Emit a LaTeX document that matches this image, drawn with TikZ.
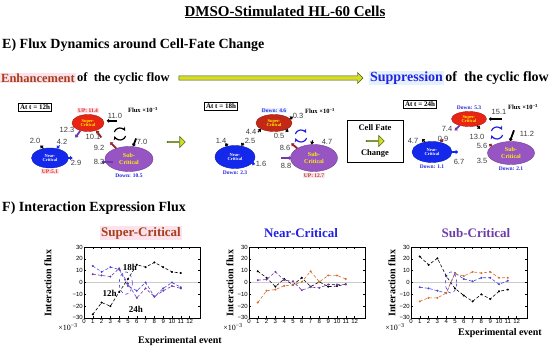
\documentclass[tikz,border=0pt]{standalone}
\usepackage{fontspec}
\setmainfont{Liberation Serif}
\setsansfont{Liberation Sans}
\usepackage{tikz}
\usetikzlibrary{positioning, arrows.meta, shapes.geometric, shapes.arrows, calc}

\definecolor{superred}{RGB}{232, 36, 20}
\definecolor{superdark}{RGB}{195, 40, 22}
\definecolor{nearblue}{RGB}{20, 40, 235}
\definecolor{subpurple}{RGB}{150, 85, 195}
\definecolor{enhbrown}{RGB}{165, 62, 28}
\definecolor{supblue}{RGB}{35, 35, 225}
\definecolor{critpurple}{RGB}{110, 60, 170}
\definecolor{hlpink}{RGB}{253, 225, 235}
\definecolor{hlblue}{RGB}{228, 242, 253}
\definecolor{fateyellow}{RGB}{215, 220, 40}
\definecolor{fategreen}{RGB}{70, 110, 30}
\definecolor{fluxred}{RGB}{150, 30, 40}
\definecolor{lineorange}{RGB}{215, 110, 50}
\definecolor{lineblue}{RGB}{70, 70, 225}
\definecolor{linepurple}{RGB}{120, 60, 170}
\definecolor{valgray}{RGB}{60, 60, 60}

\begin{document}
\begin{tikzpicture}[x=1pt, y=-1pt,
    crit/.style={ellipse, draw=#1!75!black, fill=#1, inner sep=0pt, align=center,
                 font=\bfseries\fontsize{4.5}{4.8}\selectfont},
    attime/.style={draw, thick, font=\bfseries\fontsize{7}{8}\selectfont, inner sep=1.5pt},
    val/.style={font=\sffamily\fontsize{7.5}{8}\selectfont, text=valgray, inner sep=0.5pt},
    updown/.style={font=\bfseries\fontsize{5.5}{6}\selectfont, inner sep=0.6pt},
    fluxlbl/.style={font=\bfseries\fontsize{6.5}{7}\selectfont},
    fluxout/.style={-{Triangle[length=2.5pt, width=4pt]}, line width=1.8pt},
    fluxin/.style={{Triangle[length=2.5pt, width=4pt]}-, line width=1.8pt},
    cyc/.style={-{Stealth[length=4pt, width=4pt]}, line width=1.2pt},
    fateshift/.style={single arrow, draw=fategreen, fill=fateyellow, semithick,
                      minimum width=11pt, single arrow head extend=2.5pt, inner sep=0pt},
    head/.style={font=\bfseries\fontsize{14}{16}\selectfont, inner sep=1pt},
    flowrow/.style={font=\bfseries\fontsize{13}{15}\selectfont, inner sep=1pt},
    ticklbl/.style={font=\sffamily\fontsize{6}{6}\selectfont, inner sep=1pt},
    series/.style={densely dashed, line width=0.6pt, mark=*, mark size=0.7pt, mark options={solid}}]
\useasboundingbox (0,0) rectangle (550,350);

% headings
\node[font=\bfseries\fontsize{15}{18}\selectfont] (title) at (285,12) {\underline{DMSO-Stimulated HL-60 Cells}};
\node[head, anchor=west] (ehead) at (1,45) {E) Flux Dynamics around Cell-Fate Change};
\node[flowrow, anchor=west, fill=hlpink, text=enhbrown, font=\bfseries\fontsize{12.5}{15}\selectfont] (enh) at (0,78) {Enhancement};
\node[flowrow, anchor=west, font=\bfseries\fontsize{12.5}{15}\selectfont] (enhrest) at (enh.east) {of~ the cyclic flow};
\node[flowrow, anchor=east, font=\bfseries\fontsize{14}{16}\selectfont] (supprest) at (550,78) {of~ the cyclic flow};
\node[flowrow, anchor=east, fill=hlblue, text=supblue, font=\bfseries\fontsize{14}{16}\selectfont] (supp) at (supprest.west) {Suppression};
\path let \p1=(enhrest.east), \p2=(supp.west) in
  node[fateshift, draw=fategreen!80!black, thin, single arrow head extend=3pt,
       minimum height={\x2-\x1-14pt}]
  (trend) at ($(enhrest.east)!0.5!(supp.west)$) {\rule{0pt}{3.5pt}};

% t = 12h
\node[attime] (t12) at (35,107) {At t = 12h};
\node[fluxlbl] (flux12) at (143,110) {Flux ×10\textsuperscript{−3}};
\node[crit=superred, text=yellow, minimum width=32pt, minimum height=17pt] (sup1) at (88,123) {Super-\\Critical};
\node[crit=nearblue, text=white, minimum width=37pt, minimum height=20pt] (near1) at (50,158) {Near-\\Critical};
\node[crit=subpurple, text=yellow, minimum width=48pt, minimum height=25pt,
      font=\bfseries\fontsize{6}{6.5}\selectfont] (sub1) at (129,159) {Sub-\\Critical};
\node[updown, text=superred, fill=hlpink, above=1pt of sup1] {UP: 11.4};
\node[updown, text=superred, fill=hlpink, below=1pt of near1] {UP:5.1};
\node[updown, text=supblue, below=1pt of sub1] {Down: 10.5};
\coordinate (cyc1) at (120,134);
\draw[fluxout, critpurple] (sup1.225) -- ++(-5,7);
\draw[fluxin, fluxred] (sup1.318) -- ++(5,7);
\draw[fluxin] ([shift={(3,0)}]sup1.8) -- ++(10,0);
\draw[cyc] ($(cyc1)+(-160:6)$) arc[start angle=-160, end angle=-30, radius=6];
\draw[cyc] ($(cyc1)+(20:6)$) arc[start angle=20, end angle=160, radius=6];
\draw[fluxout] ([shift={(3,-8)}]sub1.72) -- (sub1.72);
\draw[fluxout, fluxred] (sub1.140) -- ++(-6,-6);
\draw[fluxout, critpurple] ([shift={(7,0)}]sub1.188) -- ++(-11,0);
\draw[fluxout, line width=1.2pt] (near1.125) -- ++(-3,-3);
\draw[fluxin, nearblue, line width=1.2pt] (near1.55) -- ++(3,-3);
\draw[fluxout, nearblue] ([shift={(-3,0)}]near1.east) -- ++(7,0);
\node[val] at (67,130) {12.3};
\node[val] at (93,137) {10.1};
\node[val] at (115,116) {11.0};
\node[val] at (142,142) {7.0};
\node[val] at (99,148) {9.2};
\node[val] at (99,162) {8.3};
\node[val] at (35,141) {2.0};
\node[val] at (62,142) {4.2};
\node[val] at (76,163) {2.9};
\node[fateshift, minimum height=18pt] (go12) at (176,142) {};

% t = 18h
\node[attime] (t18) at (221,106) {At t = 18h};
\node[fluxlbl] (flux18) at (320,111) {Flux ×10\textsuperscript{−3}};
\node[crit=superdark, text=yellow, minimum width=36pt, minimum height=17pt] (sup2) at (274,123) {Super-\\Critical};
\node[crit=nearblue, text=white, minimum width=40pt, minimum height=23pt] (near2) at (235,157) {Near-\\Critical};
\node[crit=subpurple, text=yellow, minimum width=47pt, minimum height=27pt,
      font=\bfseries\fontsize{6}{6.5}\selectfont] (sub2) at (314,158) {Sub-\\Critical};
\node[updown, text=supblue, fill=hlblue, above=1pt of sup2] {Down: 4.6};
\node[updown, text=supblue, below=1pt of near2] {Down: 2.3};
\node[updown, text=enhbrown, fill=hlpink, below=1pt of sub2] {UP: 12.7};
\coordinate (cyc2) at (301,136);
\draw[fluxout, line width=1.2pt] (sup2.15) -- ++(3,-2);
\draw[fluxin, line width=1.2pt] (sup2.205) -- ++(-3,3);
\draw[fluxout, line width=1.2pt] (sup2.330) -- ++(3,2);
\draw[cyc, supblue] ($(cyc2)+(-160:6)$) arc[start angle=-160, end angle=-30, radius=6];
\draw[cyc, supblue] ($(cyc2)+(20:6)$) arc[start angle=20, end angle=160, radius=6];
\draw[fluxout, line width=1.2pt] (near2.125) -- ++(-2,-3);
\draw[fluxin, line width=1.2pt] (near2.60) -- ++(2,-3);
\draw[fluxout, nearblue, line width=1.2pt] (near2.340) -- ++(3,1);
\draw[fluxout, fluxred] (sub2.150) -- ++(-6,-5);
\draw[fluxin, critpurple] ([shift={(1,0)}]sub2.west) -- ++(-10,0);
\draw[fluxout, line width=1.2pt] ([shift={(1,-4)}]sub2.100) -- (sub2.100);
\node[val] at (298,116) {0.3};
\node[val] at (251,132) {4.4};
\node[val] at (279,136) {0.5};
\node[val] at (221,141) {1.4};
\node[val] at (250,141) {2.5};
\node[val] at (261,164) {1.6};
\node[val] at (285,148) {8.6};
\node[val] at (286,166) {8.8};
\node[val] at (327,142) {4.7};

% cell fate change
\node[draw, thick, minimum width=56pt, minimum height=42pt] (fatebox) at (375,141) {};
\node[font=\bfseries\fontsize{8.5}{9}\selectfont, below=1pt of fatebox.north] (fatetop) {Cell Fate};
\node[fateshift, minimum height=18pt] (fatego) at (fatebox.center) {};
\node[font=\bfseries\fontsize{8.5}{9}\selectfont, above=1pt of fatebox.south] (fatebot) {Change};

% t = 24h
\node[attime] (t24) at (420,104) {At t = 24h};
\node[fluxlbl] (flux24) at (523,107) {Flux ×10\textsuperscript{−3}};
\node[crit=superred, text=yellow, minimum width=35pt, minimum height=15pt] (sup3) at (469,119) {Super-\\Critical};
\node[crit=nearblue, text=white, minimum width=40pt, minimum height=21pt] (near3) at (432,152) {Near-\\Critical};
\node[crit=subpurple, text=yellow, minimum width=47pt, minimum height=23pt,
      font=\bfseries\fontsize{6}{6.5}\selectfont] (sub3) at (511,153) {Sub-\\Critical};
\node[updown, text=supblue, above=1pt of sup3] {Down: 5.3};
\node[updown, text=supblue, below=1pt of near3] {Down: 1.1};
\node[updown, text=supblue, below=1pt of sub3] {Down: 2.1};
\coordinate (cyc3) at (497,133);
\draw[fluxin] ([shift={(2,0)}]sup3.east) -- ++(13,0);
\draw[fluxout, critpurple] (sup3.215) -- ++(-5,5);
\draw[fluxout, line width=1.2pt] (sup3.320) -- ++(3,3);
\draw[cyc, supblue] ($(cyc3)+(-160:6)$) arc[start angle=-160, end angle=-30, radius=6];
\draw[cyc, supblue] ($(cyc3)+(20:6)$) arc[start angle=20, end angle=160, radius=6];
\draw[fluxout] ([shift={(4,-11)}]sub3.95) -- (sub3.95);
\draw[fluxout, line width=1.2pt] (near3.125) -- ++(-3,-3);
\draw[fluxin, fluxred, line width=1.2pt] (near3.50) -- ++(3,-3);
\draw[fluxout, nearblue] ([shift={(-3,0)}]near3.east) -- ++(9,0);
\draw[fluxout, fluxred, line width=1.2pt] (sub3.160) -- ++(-3,-2);
\node[val] at (499,112) {15.1};
\node[val] at (447,129) {7.4};
\node[val] at (477,137) {13.0};
\node[val] at (527,134) {11.2};
\node[val] at (413,141) {4.7};
\node[val] at (443,139) {0.9};
\node[val] at (459,162) {6.7};
\node[val] at (482,146) {5.6};
\node[val] at (482,161) {3.5};

% interaction expression flux
\node[head, anchor=west] (fhead) at (1,208) {F) Interaction Expression Flux};
\node[flowrow, fill=hlpink, text=enhbrown] (ptsup) at (141,233) {Super-Critical};
\node[flowrow, text=supblue] (ptnear) at (301,233) {Near-Critical};
\node[flowrow, text=critpurple] (ptsub) at (476,233) {Sub-Critical};
\foreach \px/\lx in {84/48, 249/230, 411/392} {
  \node[font=\bfseries\fontsize{10}{11}\selectfont, rotate=90] at (\lx,283) {Interaction flux};
  \node[font=\fontsize{8}{9}\selectfont] at (\px-16,327) {×10\textsuperscript{−3}};
  \begin{scope}[shift={(\px,282.5)}, x=8.8pt, y=1.18pt]
    \draw[gray!40, line width=0.8pt] (0,0) -- (13.2,0);
    \foreach \k in {1,...,12} \draw[line width=0.4pt] (\k,-30) -- (\k,-28.8) (\k,30) -- (\k,28.8);
    \foreach \v in {-20,-10,...,20} \draw[line width=0.4pt] (0,\v) -- (0.2,\v) (13.2,\v) -- (13,\v);
    \draw[line width=0.7pt] (0,-30) rectangle (13.2,30);
    \foreach \k in {0,...,12} \node[ticklbl, anchor=north] at (\k,-30) {\k};
    \foreach \v/\t in {30/30, 20/20, 10/10, 0/0, -10/−10, -20/−20, -30/−30}
      \node[ticklbl, anchor=east] at (0,\v) {\t};
  \end{scope}
}
\node[font=\bfseries\fontsize{10}{11}\selectfont] (xev1) at (180,341) {Experimental event};
\node[font=\bfseries\fontsize{10}{11}\selectfont] (xev3) at (500,333) {Experimental event};

% super-critical panel
\begin{scope}[shift={(84,282.5)}, x=8.8pt, y=1.18pt]
  \draw[series, black] plot coordinates {(1,-27) (2,-17) (3,-20) (4,-8) (5,3) (6,15) (7,13) (8,17) (9,13) (10,9) (11,8)};
  \draw[series, lineblue] plot coordinates {(1,14) (2,9) (3,13) (4,11) (5,-3) (6,-7) (7,0) (8,-12) (9,-5) (10,0) (11,-4)};
  \draw[series, linepurple] plot coordinates {(1,7) (2,6) (3,5) (4,12) (5,-1) (6,-13) (7,-5) (8,-12) (9,-7) (10,-3) (11,-5)};
  \draw[lineblue, dashed, line width=0.6pt] (4.75,-0.5) ellipse [x radius=0.75, y radius=9.5];
  \node[font=\bfseries\fontsize{9}{10}\selectfont] at (5.2,13) {18h};
  \node[font=\bfseries\fontsize{9}{10}\selectfont] at (2.9,-9) {12h};
  \node[font=\bfseries\fontsize{9}{10}\selectfont] at (5.9,-23) {24h};
\end{scope}

% near-critical panel
\begin{scope}[shift={(249,282.5)}, x=8.8pt, y=1.18pt]
  \draw[series, black] plot coordinates {(1,9.5) (2,4) (3,-3.5) (4,3) (5,-2) (6,4) (7,-3.5) (8,0.5) (9,-3.5) (10,-3) (11,-1.5)};
  \draw[series, linepurple] plot coordinates {(1,2) (2,2.5) (3,9) (4,2) (5,1) (6,-6.5) (7,-4) (8,-4.5) (9,-1.7) (10,-1.7) (11,-1.5)};
  \draw[series, lineorange] plot coordinates {(1,-17) (2,-7) (3,-6) (4,-2.8) (5,-2) (6,0.5) (7,9.5) (8,0.5) (9,6) (10,6) (11,3)};
\end{scope}

% sub-critical panel
\begin{scope}[shift={(411,282.5)}, x=8.8pt, y=1.18pt]
  \draw[series, black] plot coordinates {(1,22) (2,15) (3,20.5) (4,5.5) (5,-5) (6,-11) (7,-16) (8,-10) (9,-14) (10,-7.5) (11,-6)};
  \draw[series, lineblue] plot coordinates {(1,-4) (2,-5) (3,-7) (4,-9) (5,8) (6,3) (7,1) (8,4) (9,4) (10,-1.5) (11,1.5)};
  \draw[series, lineorange] plot coordinates {(1,-16) (2,-13) (3,-13) (4,-9) (5,7.5) (6,5.5) (7,9) (8,8) (9,9) (10,4) (11,4)};
  \draw[lineblue, dashed, line width=0.6pt] (4.55,0) ellipse [x radius=0.65, y radius=9];
\end{scope}
\end{tikzpicture}
\end{document}
